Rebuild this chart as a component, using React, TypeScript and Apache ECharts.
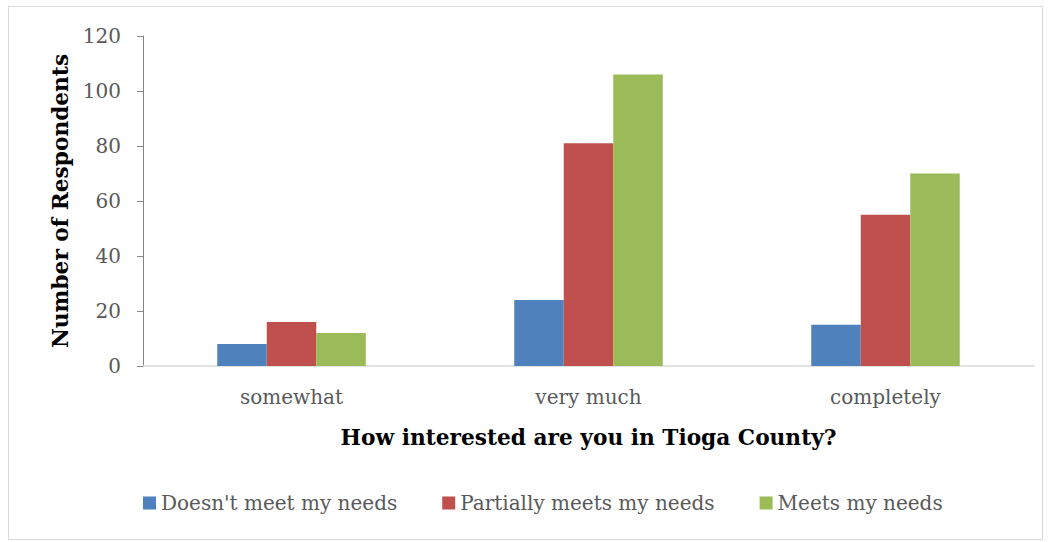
import React, { useEffect, useRef } from "react";
import * as echarts from "echarts";

const categories = ["somewhat", "very much", "completely"];
const seriesNames = ["Doesn't meet my needs", "Partially meets my needs", "Meets my needs"];
const doesntMeet = [8, 24, 15];
const partiallyMeets = [16, 81, 55];
const meets = [12, 106, 70];
const colors = ["#4F81BD", "#C0504D", "#9BBB59"];

const FONT = "DejaVu Serif";

export default function App() {
  const ref = useRef<HTMLDivElement>(null);
  useEffect(() => {
    if (!ref.current) return;
    const chart = echarts.init(ref.current, null, { renderer: "svg" });
    const values = [doesntMeet, partiallyMeets, meets];
    chart.setOption({
      animation: false,
      backgroundColor: "#ffffff",
      textStyle: { fontFamily: FONT },
      graphic: [
        {
          type: "rect",
          shape: { x: 8.5, y: 6.5, width: 1034, height: 533 },
          style: { fill: "none", stroke: "#d9d9d9", lineWidth: 1 },
          silent: true,
        },
      ],
      grid: { left: 143, right: 17, top: 36, bottom: 176, containLabel: false },
      legend: {
        left: 138,
        top: 488,
        icon: "rect",
        itemWidth: 13,
        itemHeight: 13,
        itemGap: 45,
        textStyle: { fontFamily: FONT, fontSize: 20, color: "#595959" },
        data: seriesNames,
      },
      xAxis: {
        type: "category",
        data: categories,
        name: "How interested are you in Tioga County?",
        nameLocation: "middle",
        nameGap: 71,
        nameTextStyle: {
          fontFamily: FONT,
          fontSize: 21.7,
          fontWeight: "bold",
          color: "#000000",
          verticalAlign: "middle",
        },
        axisLine: { show: true, lineStyle: { color: "#d9d9d9", width: 1.5 } },
        axisTick: { show: false },
        axisLabel: { fontFamily: FONT, fontSize: 20, color: "#595959", margin: 21 },
        splitLine: { show: false },
      },
      yAxis: {
        type: "value",
        min: 0,
        max: 120,
        interval: 20,
        name: "Number of Respondents",
        nameLocation: "middle",
        nameGap: 83,
        nameRotate: 90,
        nameTextStyle: {
          fontFamily: FONT,
          fontSize: 21.7,
          fontWeight: "bold",
          color: "#000000",
          verticalAlign: "middle",
        },
        axisLine: { show: true, lineStyle: { color: "#868686", width: 1 } },
        axisTick: { show: true, inside: false, length: 6, lineStyle: { color: "#868686" } },
        axisLabel: { fontFamily: FONT, fontSize: 20, color: "#595959", margin: 22 },
        splitLine: { show: false },
      },
      series: seriesNames.map((name, i) => ({
        name,
        type: "bar",
        data: values[i],
        barGap: "0%",
        barCategoryGap: "50%",
        itemStyle: { color: colors[i] },
      })),
    });
    return () => chart.dispose();
  }, []);
  return (
    <div
      ref={ref}
      style={{ position: "absolute", left: 0, top: 0, width: 1051, height: 542 }}
    />
  );
}
